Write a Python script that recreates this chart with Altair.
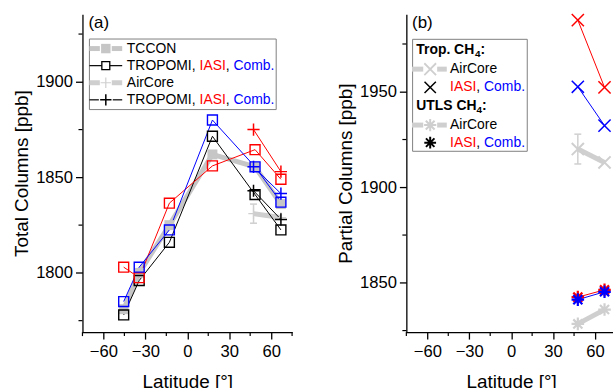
import altair as alt
import pandas as pd

FONT = "Liberation Sans"
RED, BLUE, BLACK = "#ff0000", "#0000ff", "#000000"
GRAY_TC = "#c6c6c6"
GRAY_AC = "#cfcfcf"

# ---- (a) total columns, XCH4 [ppb]
site_lat = [-45.5, -34.4, -12.8, 18.0, 48.5, 67.0]
tccon = [1781, 1800, 1825, 1862, 1855.5, 1836]
tropomi_sq = [1778, 1796, 1816, 1871.5, 1841, 1822.5]
iasi_sq = [1803, 1797.5, 1836.5, 1856, 1864.5, 1849]
comb_sq = [1785, 1803, 1822.5, 1880, 1855.5, 1837]

aircore_lat = [47.4, 67.0]
aircore_tc = [1831, 1829]
aircore_tc_err = [5.0, 0.0]
tropomi_plus = [1843, 1828]
iasi_plus = [1875, 1853]
comb_plus = [1855.5, 1841.5]

# ---- (b) partial columns [ppb]
pc_lat = [47.7, 66.8]
trop_aircore = [1920, 1913]
trop_aircore_err = [7.8, 0.0]
trop_iasi = [1987.5, 1952.3]
trop_comb = [1952.6, 1932.3]
utls_aircore = [1828.5, 1836]
utls_iasi = [1842.5, 1846.3]
utls_comb = [1841.2, 1845.3]

lat_ticks = [-60, -30, 0, 30, 60]
lat_minor = [-75, -45, -15, 15, 45, 75]
tc_ticks = [1800, 1850, 1900]
tc_minor = [1775, 1825, 1875, 1925]
pc_ticks = [1850, 1900, 1950]
pc_minor = [1825, 1875, 1925, 1975]

W, H = 211, 320
PLUS = "M-1,0L1,0M0,-1L0,1"
CROSS = "M-1,-1L1,1M-1,1L1,-1"
STAR = "M-1,0L1,0M0,-1L0,1M-0.72,-0.72L0.72,0.72M-0.72,0.72L0.72,-0.72"

# Arial advance widths (1/1000 em) for legend text layout
ADV = {"T": 611, "R": 722, "O": 778, "P": 667, "M": 833, "I": 278, ",": 278,
       " ": 278, "A": 667, "S": 667, "C": 722, "o": 556, "m": 833, "b": 556,
       ".": 278, "N": 722, "i": 222, "r": 333, "e": 556}
ADV_BOLD = {"T": 611, "r": 389, "o": 611, "p": 611, ".": 278, " ": 278,
            "C": 722, "H": 722, "U": 722, "L": 611, "S": 667, ":": 333, "4": 556}


def width(s, size, bold=False):
    table = ADV_BOLD if bold else ADV
    return sum(table[c] for c in s) * size / 1000.0


one = pd.DataFrame({"k": [0]})


def frame(lat, vals, color, series):
    return pd.DataFrame({"lat": lat, "value": vals, "color": color, "series": series})


def txt(x, y, s, color=BLACK, size=14, weight="normal"):
    return alt.Chart(one).mark_text(
        text=s, align="left", baseline="middle", font=FONT, fontSize=size,
        fontWeight=weight, color=color
    ).encode(x=alt.value(x), y=alt.value(y))


def rich(x, y, parts, size=14):
    out = []
    for s, col in parts:
        out.append(txt(x, y, s, col, size))
        x += width(s, size)
    return out


def sym(x, y, shape, color, size, sw=1.3, filled=False):
    return alt.Chart(one).mark_point(
        shape=shape, size=size, color=color, strokeWidth=sw, filled=filled, opacity=1
    ).encode(x=alt.value(x), y=alt.value(y))


def seg(x1, x2, y, color, w):
    return alt.Chart(one).mark_rule(color=color, strokeWidth=w).encode(
        x=alt.value(x1), x2=alt.value(x2), y=alt.value(y))


def box(x1, x2, y1, y2):
    return alt.Chart(one).mark_rect(fill="white", stroke="#808080", strokeWidth=1).encode(
        x=alt.value(x1), x2=alt.value(x2), y=alt.value(y1), y2=alt.value(y2))


x_scale = alt.Scale(domain=[-75, 75], nice=False, zero=False)
x_axis = alt.Axis(values=lat_ticks, format="d", title="Latitude [°]")


def X():
    return alt.X("lat:Q", scale=x_scale, axis=x_axis)


def make_y(domain, ticks, title):
    sc = alt.Scale(domain=domain, nice=False, zero=False)
    ax = alt.Axis(values=ticks, format="d", title=title)
    return lambda: alt.Y("value:Q", scale=sc, axis=ax)


def lines(df, w):
    return alt.Chart(df).mark_line(strokeWidth=w).encode(
        x=X(), y=Y(), color=alt.Color("color:N", scale=None), detail="series:N")


def points(df, shape, size, sw=1.4, filled=False):
    return alt.Chart(df).mark_point(
        shape=shape, size=size, strokeWidth=sw, filled=filled, opacity=1
    ).encode(x=X(), y=Y(), color=alt.Color("color:N", scale=None))


def minor_ticks(xv, yv):
    return [
        alt.Chart(pd.DataFrame({"lat": xv})).mark_rule(color=BLACK, strokeWidth=1.2).encode(
            x=X(), y=alt.value(H), y2=alt.value(H + 4)),
        alt.Chart(pd.DataFrame({"value": yv})).mark_rule(color=BLACK, strokeWidth=1.2).encode(
            y=Y(), x=alt.value(-4), x2=alt.value(0)),
    ]


def error_bars(lat, vals, err, color):
    rows = [(a, v - e, v + e) for a, v, e in zip(lat, vals, err) if e > 0]
    eb = pd.DataFrame(rows, columns=["lat", "value", "value2"])
    caps = pd.DataFrame({"lat": [r[0] for r in rows] * 2,
                         "value": [r[1] for r in rows] + [r[2] for r in rows]})
    return [
        alt.Chart(eb).mark_rule(color=color, strokeWidth=1.5).encode(
            x=X(), y=Y(), y2=alt.Y2("value2:Q")),
        alt.Chart(caps).mark_tick(orient="horizontal", size=7, thickness=1.5,
                                  color=color, opacity=1).encode(x=X(), y=Y()),
    ]


# ---------------- panel (a)
Y = make_y([1769, 1935.4], tc_ticks, "Total Columns [ppb]")

tc_df = frame(site_lat, tccon, GRAY_TC, "TCCON")
ac_df = frame(aircore_lat, aircore_tc, GRAY_AC, "AirCore")
sq_df = pd.concat([frame(site_lat, tropomi_sq, BLACK, "TROPOMI"),
                   frame(site_lat, iasi_sq, RED, "IASI"),
                   frame(site_lat, comb_sq, BLUE, "Comb")])
pl_df = pd.concat([frame(aircore_lat, tropomi_plus, BLACK, "TROPOMI+"),
                   frame(aircore_lat, iasi_plus, RED, "IASI+"),
                   frame(aircore_lat, comb_plus, BLUE, "Comb+")])

la = [
    lines(tc_df, 5), lines(ac_df, 5),
    lines(sq_df, 1), lines(pl_df, 1),
    points(tc_df, "square", 100, sw=0, filled=True),
    points(ac_df, PLUS, 110, sw=1.2),
    *error_bars(aircore_lat, aircore_tc, aircore_tc_err, GRAY_AC),
    points(sq_df, "square", 100, sw=1.4),
    points(pl_df, PLUS, 150, sw=1.5),
    *minor_ticks(lat_minor, tc_minor),
]

# legend of panel (a)
rows_a = [34.6, 51.8, 69.0, 86.2]
sx1, sx2, scx, tx = 7, 40, 23.5, 44.7
tri = [("TROPOMI, ", BLACK), ("IASI", RED), (", ", BLACK), ("Comb.", BLUE)]
leg_a = [
    box(7, 195, 25, 96),
    seg(sx1, scx - 6, rows_a[0], GRAY_TC, 5), seg(scx + 6, sx2, rows_a[0], GRAY_TC, 5),
    sym(scx, rows_a[0], "square", GRAY_TC, 90, sw=0, filled=True),
    txt(tx, rows_a[0], "TCCON"),
    seg(sx1, scx - 4, rows_a[1], BLACK, 1.2), seg(scx + 4, sx2, rows_a[1], BLACK, 1.2),
    sym(scx, rows_a[1], "square", BLACK, 64, sw=1.3),
    *rich(tx, rows_a[1], tri),
    seg(sx1, scx - 6, rows_a[2], GRAY_AC, 5), seg(scx + 6, sx2, rows_a[2], GRAY_AC, 5),
    sym(scx, rows_a[2], PLUS, GRAY_AC, 110, sw=1.2),
    txt(tx, rows_a[2], "AirCore"),
    seg(sx1, scx - 7, rows_a[3], BLACK, 1.2), seg(scx + 7, sx2, rows_a[3], BLACK, 1.2),
    sym(scx, rows_a[3], PLUS, BLACK, 130, sw=1.5),
    *rich(tx, rows_a[3], tri),
    txt(6, 9, "(a)", size=17),
]

left = alt.layer(*la, *leg_a).properties(width=W, height=H)

# ---------------- panel (b)
Y = make_y([1824.2, 1990.6], pc_ticks, "Partial Columns [ppb]")

tac_df = frame(pc_lat, trop_aircore, GRAY_AC, "AirCore trop")
uac_df = frame(pc_lat, utls_aircore, GRAY_AC, "AirCore utls")
tsat_df = pd.concat([frame(pc_lat, trop_iasi, RED, "IASI trop"),
                     frame(pc_lat, trop_comb, BLUE, "Comb trop")])
usat_df = pd.concat([frame(pc_lat, utls_iasi, RED, "IASI utls"),
                     frame(pc_lat, utls_comb, BLUE, "Comb utls")])
usat_draw = pd.concat([frame(pc_lat, utls_comb, BLUE, "Comb utls"),
                       frame(pc_lat, utls_iasi, RED, "IASI utls")])

lb = [
    lines(tac_df, 5), lines(uac_df, 5),
    lines(tsat_df, 1), lines(usat_df, 1),
    *error_bars(pc_lat, trop_aircore, trop_aircore_err, GRAY_AC),
    points(tac_df, CROSS, 150, sw=2),
    points(uac_df, STAR, 160, sw=2.2),
    points(tsat_df, CROSS, 150, sw=1.5),
    points(usat_draw.iloc[2:], STAR, 160, sw=2.2),
    points(usat_draw.iloc[:2], STAR, 160, sw=2.2),
    *minor_ticks(lat_minor, pc_minor),
]

rows_b = [36, 55.3, 73.7, 92, 111.6, 129.3]
hx, sx1, sx2, scx, tx = 10, 5.7, 40.7, 24, 44
pair = [("IASI", RED), (", ", BLACK), ("Comb.", BLUE)]


def heading(y, s):
    w0 = width(s, 14, bold=True)
    return [
        txt(hx, y, s, size=14, weight="bold"),
        txt(hx + w0, y + 4, "4", size=10, weight="bold"),
        txt(hx + w0 + width("4", 10, bold=True), y, ":", size=14, weight="bold"),
    ]


leg_b = [
    box(6.3, 121.7, 25.3, 138),
    *heading(rows_b[0], "Trop. CH"),
    seg(sx1, scx - 7, rows_b[1], GRAY_AC, 5), seg(scx + 7, sx2, rows_b[1], GRAY_AC, 5),
    sym(scx, rows_b[1], CROSS, GRAY_AC, 140, sw=1.8),
    txt(tx, rows_b[1], "AirCore"),
    sym(scx, rows_b[2], CROSS, BLACK, 130, sw=1.5),
    *rich(tx, rows_b[2], pair),
    *heading(rows_b[3], "UTLS CH"),
    seg(sx1, scx - 7, rows_b[4], GRAY_AC, 5), seg(scx + 7, sx2, rows_b[4], GRAY_AC, 5),
    sym(scx, rows_b[4], STAR, GRAY_AC, 150, sw=2),
    txt(tx, rows_b[4], "AirCore"),
    sym(scx, rows_b[5], STAR, BLACK, 140, sw=2),
    *rich(tx, rows_b[5], pair),
    txt(5.7, 9, "(b)", size=17),
]

right = alt.layer(*lb, *leg_b).properties(width=W, height=H)

chart = (
    alt.hconcat(left, right, spacing=43)
    .properties(padding={"left": 12, "top": 9, "right": -4, "bottom": 0})
    .configure_view(stroke=None)
    .configure_axis(
        grid=False, domainColor=BLACK, domainWidth=1.3, tickColor=BLACK, tickWidth=1.3,
        tickSize=7, labelFont=FONT, labelFontSize=16.7, labelColor=BLACK,
        titleFont=FONT, titleFontSize=19, titleFontWeight="normal", titleColor=BLACK,
        labelFlush=False, labelOverlap=False,
    )
    .configure_axisX(labelPadding=5, titlePadding=12)
    .configure_axisY(labelPadding=3, titlePadding=4)
)

chart.save("out.html", embed_options={"renderer": "svg", "actions": False})
